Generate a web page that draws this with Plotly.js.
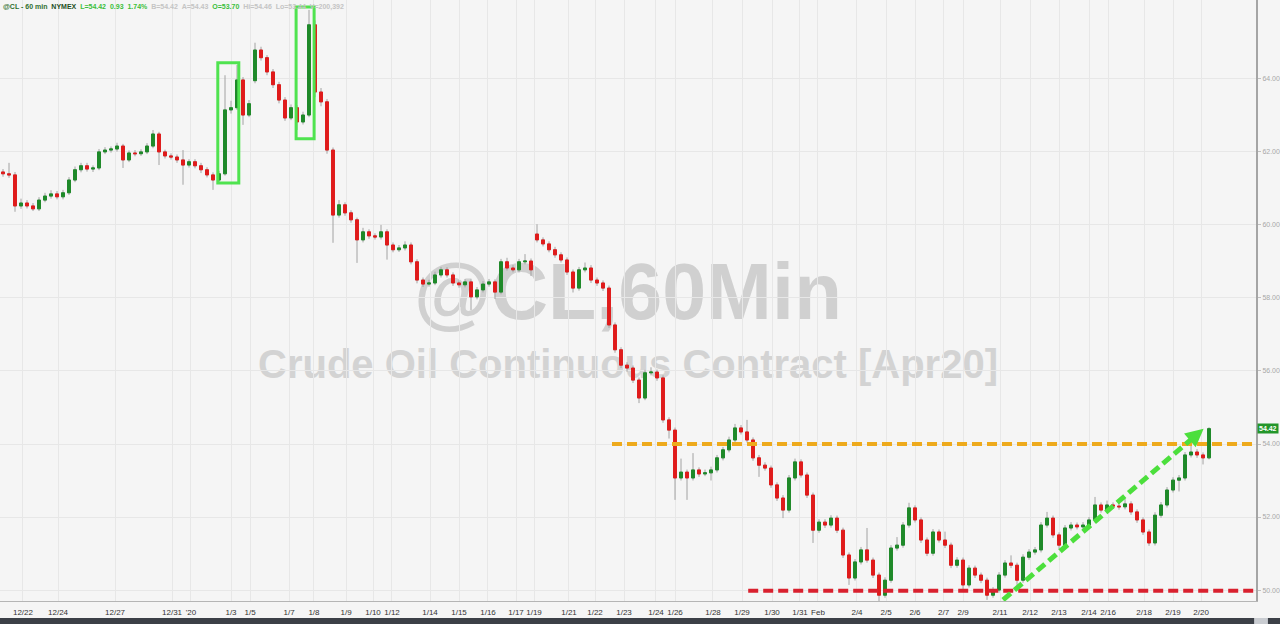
<!DOCTYPE html>
<html><head><meta charset="utf-8">
<script src="https://cdn.plot.ly/plotly-3.0.1.min.js"></script>
<style>html,body{margin:0;padding:0;background:#f5f5f5;overflow:hidden}#chart{width:1280px;height:624px}</style>
</head><body><div id="chart"></div>
<script>
// hourly-ish bars of @CL (Crude Oil Continuous Contract [Apr20])
const openP = [
61.45,61.40,61.37,60.52,60.60,60.52,60.44,60.68,60.79,60.85,
60.77,60.88,61.23,61.51,61.62,61.53,61.56,62.00,62.05,62.08,
62.16,61.78,61.97,61.95,62.00,62.16,62.49,62.00,61.89,61.86,
61.78,61.64,61.73,61.62,61.51,61.37,61.23,61.40,63.15,63.21,
63.97,63.01,63.95,64.79,64.58,64.19,63.84,63.42,62.93,63.21,
62.82,63.01,65.48,63.64,63.37,62.05,60.27,60.55,60.33,60.14,
59.59,59.81,59.70,59.67,59.81,59.45,59.32,59.37,59.45,58.99,
58.49,58.38,58.41,58.63,58.77,58.63,58.41,58.36,58.44,58.03,
58.22,58.38,58.44,58.16,58.99,58.82,58.77,58.99,59.01,59.75,
59.59,59.48,59.32,59.18,59.04,58.71,58.27,58.77,58.82,58.49,
58.41,58.27,57.26,56.58,56.16,56.08,55.75,55.26,55.95,55.97,
55.81,54.66,54.38,53.07,53.23,53.07,53.29,53.18,53.21,53.29,
53.62,53.84,54.11,54.44,54.33,54.11,53.62,53.42,53.34,52.88,
52.52,52.19,53.07,53.51,53.15,52.60,51.64,51.86,51.78,51.97,
51.64,50.96,50.33,50.77,51.10,50.82,50.41,49.86,50.27,51.15,
51.23,51.78,52.25,51.92,51.37,51.01,51.59,51.37,51.23,50.68,
50.82,50.14,50.60,50.41,50.27,49.86,50.00,50.41,50.74,50.68,
50.27,50.90,51.04,51.10,51.78,51.97,51.51,51.23,51.70,51.78,
51.73,51.78,51.92,52.33,52.19,52.33,52.30,52.28,52.36,52.14,
51.92,51.59,51.29,52.05,52.33,52.74,53.01,53.07,53.70,53.78,
53.70,53.62];
const highP = [
61.53,61.70,61.45,60.72,60.68,60.60,60.76,60.88,60.95,60.93,
60.96,61.31,61.60,61.70,61.70,61.63,62.08,62.13,62.15,62.25,
62.22,62.04,62.05,62.07,62.24,62.60,62.55,62.06,61.96,61.93,
62.05,61.80,61.80,61.70,61.58,61.44,61.48,64.10,63.40,64.38,
64.05,63.42,64.99,64.88,64.65,64.27,63.92,63.50,63.30,63.28,
63.10,65.89,65.60,63.75,63.45,62.12,60.68,60.62,60.40,60.20,
59.92,59.88,59.77,60.00,59.88,59.52,59.45,59.55,59.52,59.06,
58.56,58.50,58.72,58.85,58.84,58.70,58.48,58.52,58.51,58.30,
58.46,58.52,58.51,59.07,59.10,58.90,59.07,59.20,59.08,60.02,
59.66,59.55,59.40,59.25,59.11,58.78,58.85,58.97,58.90,58.56,
58.48,58.34,57.33,56.65,56.24,56.15,55.82,56.03,56.10,56.04,
55.88,54.73,54.45,53.60,53.30,53.75,53.36,53.30,53.38,53.70,
53.92,54.20,54.55,54.52,54.66,54.18,53.70,53.50,53.41,52.95,
52.60,53.15,53.60,53.58,53.22,52.67,51.94,51.94,52.05,52.04,
51.71,51.03,50.85,51.18,51.70,50.89,50.48,50.35,51.23,51.45,
51.86,52.39,52.32,51.99,51.44,51.67,51.66,51.60,51.30,50.90,
50.89,50.68,50.67,50.48,50.34,50.08,50.49,50.82,50.95,50.75,
50.98,51.12,51.18,51.86,52.14,52.04,51.58,51.78,51.86,51.85,
51.86,52.00,52.55,52.40,52.45,52.40,52.38,52.50,52.43,52.21,
51.99,51.66,52.13,52.41,52.82,53.09,53.15,53.78,53.95,53.86,
53.77,54.46];
const lowP = [
61.32,61.29,60.36,60.44,60.45,60.38,60.38,60.62,60.72,60.70,
60.70,60.82,61.17,61.44,61.46,61.45,61.50,61.94,61.98,62.01,
61.56,61.72,61.88,61.89,61.94,62.10,61.64,61.82,61.79,61.70,
61.10,61.57,61.55,61.42,61.30,60.96,61.16,61.35,63.05,63.15,
62.74,62.95,63.88,64.50,64.10,63.75,63.33,62.85,62.87,62.60,
62.75,62.95,63.50,63.25,61.95,59.51,60.20,60.25,60.06,58.96,
59.52,59.62,59.60,59.60,59.05,59.25,59.26,59.30,58.92,58.40,
58.30,58.31,58.35,58.56,58.56,58.33,58.28,58.29,57.67,57.96,
58.15,58.31,57.97,58.10,58.75,58.70,58.70,58.92,58.60,59.52,
59.41,59.25,59.10,58.97,58.63,58.15,58.20,58.70,58.41,58.33,
58.19,57.18,56.50,56.08,55.98,55.67,55.12,55.20,55.88,55.73,
54.58,54.15,52.47,53.00,52.47,53.00,53.10,53.12,53.00,53.22,
53.55,53.77,54.05,54.26,54.04,53.54,53.10,53.27,52.80,52.44,
51.97,52.12,53.00,53.08,52.52,51.29,51.57,51.70,51.71,51.56,
50.88,50.14,50.26,50.70,50.75,50.33,49.67,49.79,50.20,51.08,
51.16,51.71,51.85,51.29,50.93,50.94,51.30,51.15,50.60,50.61,
49.95,50.07,50.33,50.19,49.73,49.79,49.93,50.34,50.60,50.14,
50.20,50.83,50.97,51.03,51.71,51.43,51.10,51.16,51.63,51.66,
51.66,51.71,51.85,52.12,52.12,52.22,52.20,52.21,52.06,51.84,
51.51,51.21,51.22,51.98,52.26,52.67,52.70,53.00,53.63,53.62,
53.44,53.58];
const closeP = [
61.40,61.37,60.52,60.60,60.52,60.44,60.68,60.79,60.85,60.77,
60.88,61.23,61.51,61.62,61.53,61.56,62.00,62.05,62.08,62.16,
61.78,61.97,61.95,62.00,62.16,62.49,62.00,61.89,61.86,61.78,
61.64,61.73,61.62,61.51,61.37,61.23,61.40,63.15,63.21,63.97,
63.01,63.32,64.79,64.58,64.19,63.84,63.42,62.93,63.21,62.82,
63.01,65.48,63.64,63.37,62.05,60.27,60.55,60.33,60.14,59.59,
59.81,59.70,59.67,59.81,59.45,59.32,59.37,59.45,58.99,58.49,
58.38,58.41,58.63,58.77,58.63,58.41,58.36,58.44,58.03,58.22,
58.38,58.44,58.16,58.99,58.82,58.77,58.99,59.01,58.77,59.59,
59.48,59.32,59.18,59.04,58.71,58.27,58.77,58.82,58.49,58.41,
58.27,57.26,56.58,56.16,56.08,55.75,55.26,55.95,55.97,55.81,
54.66,54.38,53.07,53.23,53.07,53.29,53.18,53.21,53.29,53.62,
53.84,54.11,54.44,54.33,54.11,53.62,53.42,53.34,52.88,52.52,
52.19,53.07,53.51,53.15,52.60,51.64,51.86,51.78,51.97,51.64,
50.96,50.33,50.77,51.10,50.82,50.41,49.86,50.27,51.15,51.23,
51.78,52.25,51.92,51.37,51.01,51.59,51.37,51.23,50.68,50.82,
50.14,50.60,50.41,50.27,49.86,50.00,50.41,50.74,50.68,50.27,
50.90,51.04,51.10,51.78,51.97,51.51,51.23,51.70,51.78,51.73,
51.78,51.92,52.33,52.19,52.33,52.30,52.28,52.36,52.14,51.92,
51.59,51.29,52.05,52.33,52.74,53.01,53.07,53.70,53.78,53.70,
53.62,54.42];

const tickLabels = ['12/22','12/24','12/27','12/31',"'20",'1/3','1/5','1/7','1/8','1/9','1/10','1/12','1/14','1/15','1/16','1/17','1/19','1/21','1/22','1/23','1/24','1/26','1/28','1/29','1/30','1/31','Feb','2/4','2/5','2/6','2/7','2/9','2/11','2/12','2/13','2/14','2/16','2/18','2/19','2/20'];
const tickPos = [3.33,9.17,18.67,28.17,31.33,38.0,41.17,47.67,51.83,57.17,61.67,64.83,71.17,76.0,80.83,85.5,88.5,94.33,98.67,103.5,108.83,112.0,118.33,123.17,128.17,132.83,135.83,142.33,147.17,152.0,156.75,160.0,166.17,171.17,176.0,181.0,184.17,190.17,195.0,199.67];
const priceTicks = [50,52,54,56,58,60,62,64];
const priceTickText = ['50.00','52.00','54.00','56.00','58.00','60.00','62.00','64.00'];
const resistanceLevel = 54.00;
const supportLevel = 49.98;
const headerText = {sym:'@CL - 60 min', exch:'NYMEX', last:'L=54.42', chg:'0.93', pct:'1.74%', bid:'B=54.42', ask:'A=54.43', op:'O=53.70', hi:'Hi=54.46', lo:'Lo=53.44', vol:'V=200,392'};
const lastPrice = 54.42;

// ---------- build ----------
const idx = closeP.map((_, i) => i);
const bodyHi = openP.map((o, i) => Math.max(o, closeP[i]));
const bodyLo = openP.map((o, i) => Math.min(o, closeP[i]));

const XMAX = 208.83, YMIN = 49.70, YMAX = 66.16;
const GREEN = '#1f8a2a', RED = '#e01c1c', WICK = '#a2a2a2';

const traces = [
  {type:'candlestick', x:idx, open:openP, high:highP, low:lowP, close:closeP,
   increasing:{line:{color:WICK,width:1}, fillcolor:WICK},
   decreasing:{line:{color:WICK,width:1}, fillcolor:WICK},
   whiskerwidth:0, hoverinfo:'skip', showlegend:false},
  {type:'candlestick', x:idx, open:openP, high:bodyHi, low:bodyLo, close:closeP,
   increasing:{line:{color:GREEN,width:1}, fillcolor:GREEN},
   decreasing:{line:{color:RED,width:1}, fillcolor:RED},
   whiskerwidth:0, hoverinfo:'skip', showlegend:false}
];

const sp = '&nbsp;&nbsp;';
const header = '<b><span style="color:#2f6f2f">'+headerText.sym+'</span>'+sp+
  '<span style="color:#1d4f1d">'+headerText.exch+'</span>'+sp+
  '<span style="color:#3bbf3b">'+headerText.last+sp+headerText.chg+sp+headerText.pct+'</span>'+sp+
  '<span style="color:#c4c4c4">'+headerText.bid+sp+headerText.ask+'</span>'+sp+
  '<span style="color:#3bbf3b">'+headerText.op+'</span>'+sp+
  '<span style="color:#c4c4c4">'+headerText.hi+sp+headerText.lo+sp+headerText.vol+'</span></b>';

const BOXG = '#4fe34f';
const shapes = [
  {type:'rect', xref:'paper', yref:'paper', x0:0.25, x1:0.75, y0:0.50, y1:0.552, layer:'below',
   line:{width:0}, fillcolor:'rgba(0,0,0,0)',
   label:{text:'@CL,60Min', textposition:'middle center', font:{family:'Liberation Sans, Arial, sans-serif', size:79, color:'#d0d0d0', weight:700}}},
  {type:'rect', xref:'paper', yref:'paper', x0:0.1, x1:0.9, y0:0.38, y1:0.422, layer:'below',
   line:{width:0}, fillcolor:'rgba(0,0,0,0)',
   label:{text:'Crude Oil Continuous Contract [Apr20]', textposition:'middle center', font:{family:'Liberation Sans, Arial, sans-serif', size:40, color:'#d3d3d3', weight:700}}},
  {type:'rect', xref:'x', yref:'y', x0:35.8, x1:39.3, y0:61.15, y1:64.44, line:{color:BOXG,width:3}},
  {type:'rect', xref:'x', yref:'y', x0:48.85, x1:51.85, y0:62.36, y1:65.97, line:{color:BOXG,width:3}},
  {type:'line', xref:'x', yref:'y', x0:101.5, x1:XMAX, y0:resistanceLevel, y1:resistanceLevel, line:{color:'#eeaa1c',width:4,dash:'10px,5px'}},
  {type:'line', xref:'x', yref:'y', x0:124.2, x1:XMAX, y0:supportLevel, y1:supportLevel, line:{color:'#d9202e',width:4,dash:'10px,5px'}},
  {type:'line', xref:'x', yref:'y', x0:166.67, x1:198.7, y0:49.73, y1:54.22, line:{color:'#4cdf3c',width:5,dash:'10px,5px'}},
  // bottom scroll strip
  {type:'rect', xref:'paper', yref:'paper', x0:0, x1:1.0192, y0:-0.0385, y1:-0.0283, line:{width:0}, fillcolor:'#3c4047', layer:'above'},
  {type:'rect', xref:'paper', yref:'paper', x0:0.9985, x1:1.0095, y0:-0.0385, y1:-0.0283, line:{width:0}, fillcolor:'#c9ccd1', layer:'above'}
];

const annotations = [
  {xref:'paper', yref:'paper', x:0, y:1, xanchor:'left', yanchor:'top', yshift:-1, xshift:1, showarrow:false,
   text:header, font:{family:'Liberation Sans, Arial, sans-serif', size:7}},
  {xref:'x', yref:'y', x:200.1, y:54.42, axref:'x', ayref:'y', ax:198.3, ay:54.17, text:'', showarrow:true,
   arrowhead:2, arrowsize:0.9, arrowwidth:4, arrowcolor:'#4cdf3c'},
  {xref:'paper', yref:'y', x:1, y:lastPrice, xanchor:'left', yanchor:'middle', xshift:1, showarrow:false,
   text:'<b>'+lastPrice.toFixed(2)+'</b>', bgcolor:'#23962a', borderpad:1,
   font:{family:'Liberation Sans, Arial, sans-serif', size:7, color:'#ffffff'}}
];

const layout = {
  width:1280, height:624,
  margin:{l:0, r:24, t:0, b:23, pad:0},
  paper_bgcolor:'#f5f5f5', plot_bgcolor:'#f5f5f5',
  font:{family:'Liberation Sans, Arial, sans-serif'},
  showlegend:false,
  boxgap:0.3,
  xaxis:{range:[-0.5, XMAX], tickmode:'array', tickvals:tickPos, ticktext:tickLabels, tickangle:0,
    tickfont:{size:8, color:'#333333'}, showgrid:true, gridcolor:'#e7e7e7', gridwidth:1,
    showline:true, linecolor:'#b5b5b5', linewidth:1, ticks:'', zeroline:false,
    rangeslider:{visible:false}, fixedrange:true, ticklabelstandoff:3},
  yaxis:{side:'right', range:[YMIN, YMAX], tickmode:'array', tickvals:priceTicks, ticktext:priceTickText,
    tickfont:{size:7, color:'#a8a8a8'}, showgrid:true, gridcolor:'#e7e7e7', gridwidth:1,
    showline:true, linecolor:'#a5a5a5', linewidth:2, ticks:'outside', ticklen:3, tickcolor:'#c0c0c0',
    zeroline:false, fixedrange:true},
  shapes:shapes, annotations:annotations
};

Plotly.newPlot('chart', traces, layout, {displayModeBar:false, staticPlot:true});
</script>
</body></html>
